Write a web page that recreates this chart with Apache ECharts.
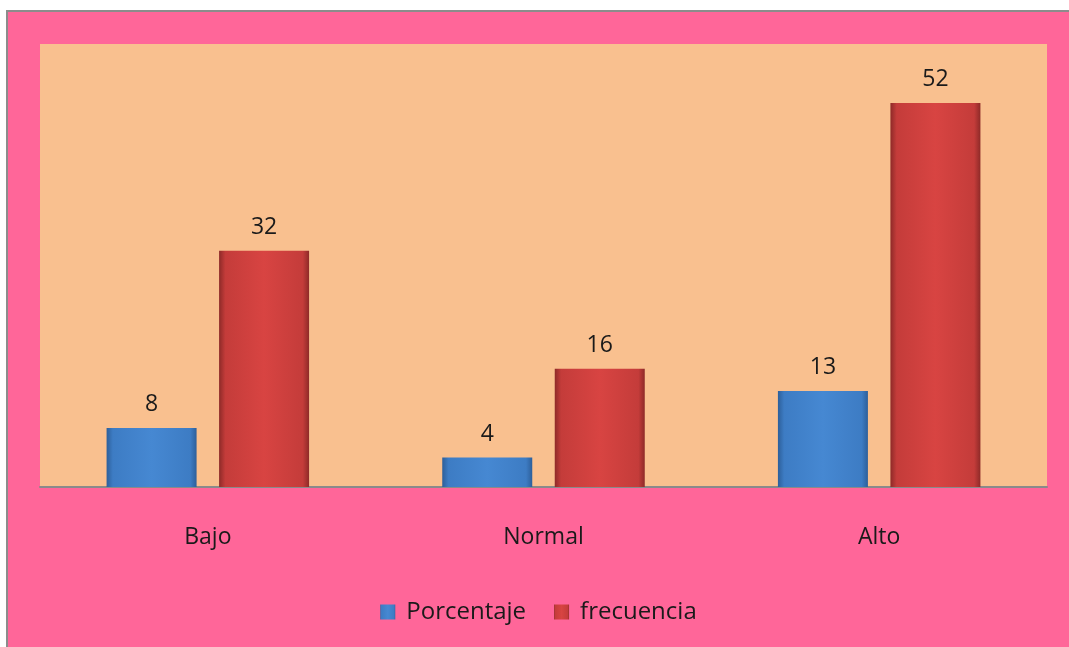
<!DOCTYPE html>
<html>
<head>
<meta charset="utf-8">
<script src="https://cdn.jsdelivr.net/npm/echarts@6/dist/echarts.min.js"></script>
<style>
  html, body { margin: 0; padding: 0; background: #ffffff; }
  #frame {
    position: absolute; left: 6px; top: 10px;
    border-left: 2px solid #8c8c8c; border-top: 2px solid #8c8c8c;
  }
  #main { width: 1061px; height: 635px; }
</style>
</head>
<body>
<div id="frame"><div id="main"></div></div>
<script>
// datos del grafico
const categories = ["Bajo", "Normal", "Alto"]
const porcentaje = [8, 4, 13]
const frecuencia = [32, 16, 52]

const FONT = "Open Sans"

// gradiente horizontal para simular el bisel de Excel
function bevel(edge, main, light) {
  return new echarts.graphic.LinearGradient(0, 0, 1, 0, [
    { offset: 0, color: edge },
    { offset: 0.07, color: main },
    { offset: 0.5, color: light },
    { offset: 0.93, color: main },
    { offset: 1, color: edge },
  ])
}

const chart = echarts.init(document.getElementById("main"))
chart.setOption({
  backgroundColor: "#ff6699",
  animation: false,
  grid: {
    left: 32, top: 32, right: 22, bottom: 160,
    show: true, backgroundColor: "#f9c08f", borderWidth: 0,
  },
  legend: {
    bottom: 18,
    left: "center",
    icon: "rect",
    itemWidth: 15,
    itemHeight: 15,
    itemGap: 28,
    textStyle: {
      fontFamily: FONT, fontSize: 24, fontWeight: 500, color: "#1a1a1a",
      padding: [0, 0, 0, 6],
    },
    data: ["Porcentaje", "frecuencia"],
  },
  xAxis: {
    type: "category",
    data: categories,
    axisLine: { lineStyle: { color: "#8a8a8a", width: 2 } },
    axisTick: { show: false },
    axisLabel: { fontFamily: FONT, fontSize: 23, fontWeight: 500, color: "#1a1a1a", margin: 39 },
  },
  yAxis: {
    type: "value",
    min: 0,
    max: 60,
    show: false,
  },
  series: [
    {
      name: "Porcentaje",
      type: "bar",
      data: porcentaje,
      barWidth: 90,
      barGap: "25%",
      itemStyle: { color: bevel("#2d5f9a", "#3d7cc4", "#4688d2") },
      label: {
        show: true, position: "top", distance: 12,
        fontFamily: FONT, fontSize: 23, fontWeight: 500, color: "#1a1a1a",
      },
    },
    {
      name: "frecuencia",
      type: "bar",
      data: frecuencia,
      barWidth: 90,
      itemStyle: { color: bevel("#8e2a28", "#c43c3a", "#d84442") },
      label: {
        show: true, position: "top", distance: 12,
        fontFamily: FONT, fontSize: 23, fontWeight: 500, color: "#1a1a1a",
      },
    },
  ],
})
</script>
</body>
</html>
